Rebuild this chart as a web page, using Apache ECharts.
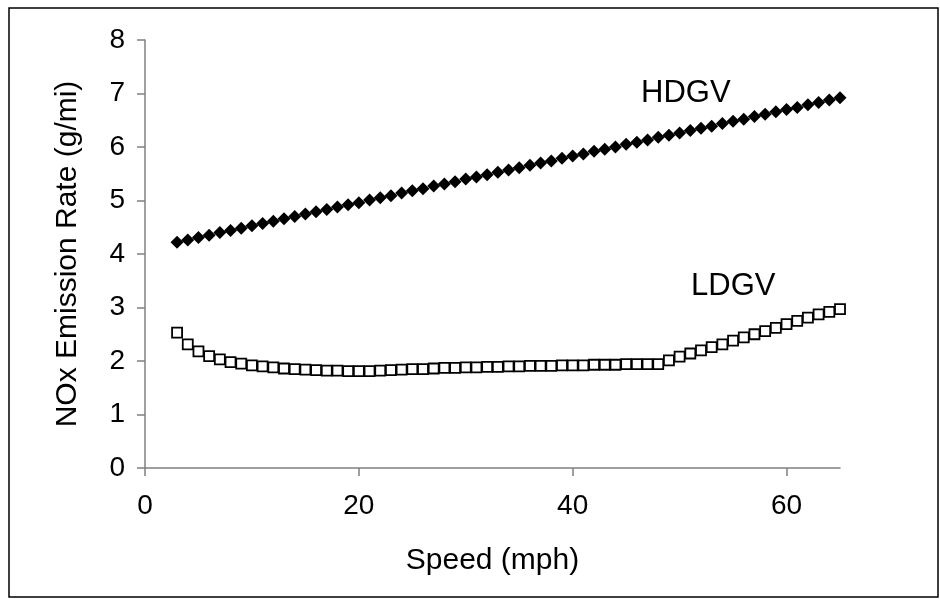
<!DOCTYPE html>
<html>
<head>
<meta charset="utf-8">
<script src="https://cdn.jsdelivr.net/npm/echarts@6/dist/echarts.min.js"></script>
<style>
html,body{margin:0;padding:0;background:#fff;}
#chart{width:940px;height:599px;}
</style>
</head>
<body>
<div id="chart"></div>
<script>
// Speeds (mph)
var speeds = [3,4,5,6,7,8,9,10,11,12,13,14,15,16,17,18,19,20,21,22,23,24,25,26,27,28,29,30,31,32,33,34,35,36,37,38,39,40,41,42,43,44,45,46,47,48,49,50,51,52,53,54,55,56,57,58,59,60,61,62,63,64,65];
// HDGV NOx emission rate (g/mi)
var hdgv = [4.22,4.26,4.31,4.35,4.40,4.44,4.48,4.53,4.57,4.61,4.66,4.70,4.75,4.79,4.83,4.88,4.92,4.96,5.01,5.05,5.09,5.14,5.18,5.22,5.27,5.31,5.35,5.40,5.44,5.48,5.53,5.57,5.61,5.66,5.70,5.74,5.79,5.83,5.87,5.92,5.96,6.00,6.05,6.09,6.13,6.18,6.22,6.26,6.31,6.35,6.39,6.44,6.48,6.52,6.57,6.61,6.66,6.70,6.74,6.79,6.83,6.88,6.92];
// LDGV NOx emission rate (g/mi)
var ldgv = [2.53,2.31,2.18,2.09,2.03,1.98,1.95,1.92,1.90,1.88,1.86,1.85,1.84,1.83,1.82,1.82,1.81,1.81,1.81,1.82,1.83,1.84,1.85,1.85,1.86,1.87,1.87,1.88,1.88,1.89,1.89,1.90,1.90,1.91,1.91,1.91,1.92,1.92,1.92,1.93,1.93,1.93,1.94,1.94,1.94,1.94,2.01,2.08,2.14,2.20,2.26,2.31,2.38,2.44,2.50,2.56,2.62,2.69,2.75,2.81,2.87,2.92,2.97];
var seriesNames = ['HDGV','LDGV'];
var xTitle = 'Speed (mph)';
var yTitle = 'NOx Emission Rate (g/mi)';

function pairs(xs, ys){ return xs.map(function(x,i){ return [x, ys[i]]; }); }

var font = 'Liberation Sans, Arial, sans-serif';
var chart = echarts.init(document.getElementById('chart'), null, {renderer:'canvas'});
chart.setOption({
  animation:false,
  backgroundColor:'#fff',
  grid:{left:145, right:100, top:40, bottom:131},
  xAxis:{
    type:'value', min:0, max:65, interval:20,
    name:xTitle, nameLocation:'middle', nameGap:78,
    nameTextStyle:{fontFamily:font, fontSize:30, color:'#000'},
    axisLine:{show:true, onZero:false, lineStyle:{color:'#808080', width:1.5}},
    axisTick:{show:true, length:8, lineStyle:{color:'#808080', width:1.5}},
    axisLabel:{fontFamily:font, fontSize:28, color:'#000', margin:24, showMaxLabel:false},
    splitLine:{show:false}
  },
  yAxis:{
    type:'value', min:0, max:8, interval:1,
    name:yTitle, nameLocation:'middle', nameGap:62, nameRotate:90,
    nameTextStyle:{fontFamily:font, fontSize:30, color:'#000'},
    axisLine:{show:true, lineStyle:{color:'#808080', width:1.5}},
    axisTick:{show:true, length:8, lineStyle:{color:'#808080', width:1.5}},
    axisLabel:{fontFamily:font, fontSize:28, color:'#000', margin:20},
    splitLine:{show:false}
  },
  series:[
    {name:seriesNames[0], type:'scatter', data:pairs(speeds, hdgv), symbol:'diamond', symbolSize:13,
     itemStyle:{color:'#000', opacity:1}},
    {name:seriesNames[1], type:'scatter', data:pairs(speeds, ldgv), symbol:'rect', symbolSize:10,
     itemStyle:{color:'#fff', borderColor:'#000', borderWidth:1.8, opacity:1}}
  ],
  graphic:[
    {type:'rect', shape:{x:9, y:8, width:929, height:589}, style:{fill:'none', stroke:'#000', lineWidth:1.5}, silent:true},
    {type:'text', left:641, top:78, style:{text:seriesNames[0], font:'31px ' + font, fill:'#000'}},
    {type:'text', left:691, top:271, style:{text:seriesNames[1], font:'31px ' + font, fill:'#000'}}
  ]
});
</script>
</body>
</html>
